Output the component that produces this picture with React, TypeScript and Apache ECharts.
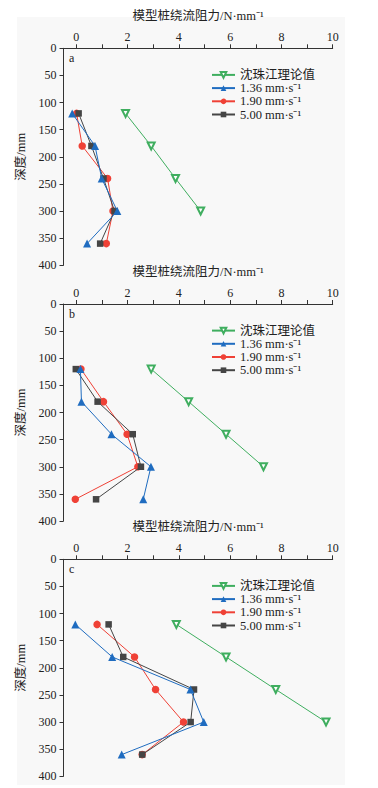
import React, { useEffect, useRef } from "react";
import * as echarts from "echarts";

const depths = [120, 180, 240, 300, 360];
const theoryDepths = [120, 180, 240, 300];

const theoryA = [1.92, 2.92, 3.87, 4.85];
const v136A = [-0.16, 0.73, 0.99, 1.6, 0.42];
const v190A = [0.01, 0.23, 1.22, 1.43, 1.17];
const v500A = [0.09, 0.59, 1.06, 1.49, 0.93];

const theoryB = [2.92, 4.38, 5.84, 7.3];
const v136B = [0.16, 0.2, 1.37, 2.91, 2.61];
const v190B = [0.18, 1.06, 1.98, 2.4, -0.04];
const v500B = [-0.02, 0.83, 2.2, 2.52, 0.77];

const theoryC = [3.9, 5.84, 7.78, 9.74];
const v136C = [-0.04, 1.4, 4.45, 4.97, 1.77];
const v190C = [0.81, 2.27, 3.09, 4.18, 2.57];
const v500C = [1.26, 1.83, 4.59, 4.46, 2.57];

const panelLabels = ["a", "b", "c"];
const seriesNames = ["沈珠江理论值", "1.36 mm·s⁻¹", "1.90 mm·s⁻¹", "5.00 mm·s⁻¹"];
const xTickValues = [0, 1, 2, 3, 4, 5, 6, 7, 8, 9, 10];
const xLabelValues = [0, 2, 4, 6, 8, 10];
const xName = "模型桩绕流阻力/N·mm⁻¹";
const yName = "深度/mm";

const panels = [
  { theory: theoryA, v136: v136A, v190: v190A, v500: v500A },
  { theory: theoryB, v136: v136B, v190: v190B, v500: v500B },
  { theory: theoryC, v136: v136C, v190: v190C, v500: v500C },
];

const FONT = "'Liberation Serif', 'Noto Sans CJK SC', serif";
const GREEN = "#3fae5f";
const BLUE = "#1f6cc0";
const RED = "#ef4136";
const DARK = "#454545";

export default function App() {
  const ref = useRef<HTMLDivElement>(null);
  useEffect(() => {
    if (!ref.current) return;
    const chart = echarts.init(ref.current, undefined, { renderer: "svg" });
    const tops = [48.3, 304, 559.3];
    const gridLeft = 63.5;
    const gridWidth = 269.2;
    const gridHeight = 217;

    const grids: any[] = [];
    const xAxes: any[] = [];
    const yAxes: any[] = [];
    const legends: any[] = [];
    const series: any[] = [];
    const graphics: any[] = [];

    const pair = (xs: number[], ys: number[]) => xs.map((x, i) => [x, ys[i]]);

    panels.forEach((p, i) => {
      grids.push({ left: gridLeft, top: tops[i], width: gridWidth, height: gridHeight });
      xAxes.push({
        gridIndex: i,
        type: "value",
        position: "top",
        min: -0.5,
        max: 10,
        name: xName,
        nameLocation: "middle",
        nameGap: 26,
        nameTextStyle: { fontFamily: FONT, fontSize: 12.5, color: "#222" },
        axisLine: { show: true, onZero: false, lineStyle: { color: "#333", width: 1 } },
        axisTick: { show: true, inside: false, length: 4, customValues: xTickValues, lineStyle: { color: "#333" } },
        axisLabel: { customValues: xLabelValues, margin: 5, fontFamily: FONT, fontSize: 12, color: "#222" },
        splitLine: { show: false },
      });
      yAxes.push({
        gridIndex: i,
        type: "value",
        inverse: true,
        min: 0,
        max: 400,
        interval: 50,
        name: yName,
        nameLocation: "middle",
        nameGap: 35,
        nameRotate: 90,
        nameTextStyle: { fontFamily: FONT, fontSize: 12.5, color: "#222" },
        axisLine: { show: true, onZero: false, lineStyle: { color: "#333", width: 1 } },
        axisTick: { show: true, inside: false, length: 4, lineStyle: { color: "#333" } },
        axisLabel: { margin: 7, fontFamily: FONT, fontSize: 12, color: "#222" },
        splitLine: { show: false },
      });
      legends.push({
        data: seriesNames,
        orient: "vertical",
        left: 206,
        top: tops[i] + 15,
        itemWidth: 23,
        itemHeight: 7,
        itemGap: 0,
        textStyle: { fontFamily: FONT, fontSize: 12.5, color: "#222", lineHeight: 13.2 },
      });
      const base = { xAxisIndex: i, yAxisIndex: i, type: "line", lineStyle: { width: 1 } };
      series.push({
        ...base,
        name: seriesNames[0],
        data: pair(p.theory, theoryDepths),
        symbol: "emptyTriangle",
        symbolRotate: 180,
        symbolSize: 7,
        itemStyle: { color: GREEN, borderWidth: 1 },
        lineStyle: { width: 1, color: GREEN },
        z: 2,
      });
      series.push({
        ...base,
        name: seriesNames[1],
        data: pair(p.v136, depths),
        symbol: "triangle",
        symbolSize: 8,
        itemStyle: { color: BLUE },
        lineStyle: { width: 1, color: BLUE },
        z: 5,
      });
      series.push({
        ...base,
        name: seriesNames[2],
        data: pair(p.v190, depths),
        symbol: "circle",
        symbolSize: 7.5,
        itemStyle: { color: RED },
        lineStyle: { width: 1, color: RED },
        z: 3,
      });
      series.push({
        ...base,
        name: seriesNames[3],
        data: pair(p.v500, depths),
        symbol: "rect",
        symbolSize: 6.5,
        itemStyle: { color: DARK },
        lineStyle: { width: 1, color: DARK },
        z: 4,
      });
      graphics.push({
        type: "text",
        left: 69,
        top: tops[i] + 4,
        style: { text: panelLabels[i], fontFamily: FONT, fontSize: 12, fill: "#222" },
      });
    });

    chart.setOption({
      animation: false,
      grid: grids,
      xAxis: xAxes,
      yAxis: yAxes,
      legend: legends,
      series,
      graphic: graphics,
    });
    return () => chart.dispose();
  }, []);

  return (
    <div style={{ position: "fixed", left: 0, top: 0, width: 378, height: 788, background: "#fff" }}>
      <div
        style={{ position: "absolute", left: 17, top: 17, width: 328, height: 768, background: "#f8f8f8" }}
      />
      <div ref={ref} style={{ position: "absolute", left: 0, top: 0, width: 378, height: 788 }} />
    </div>
  );
}
